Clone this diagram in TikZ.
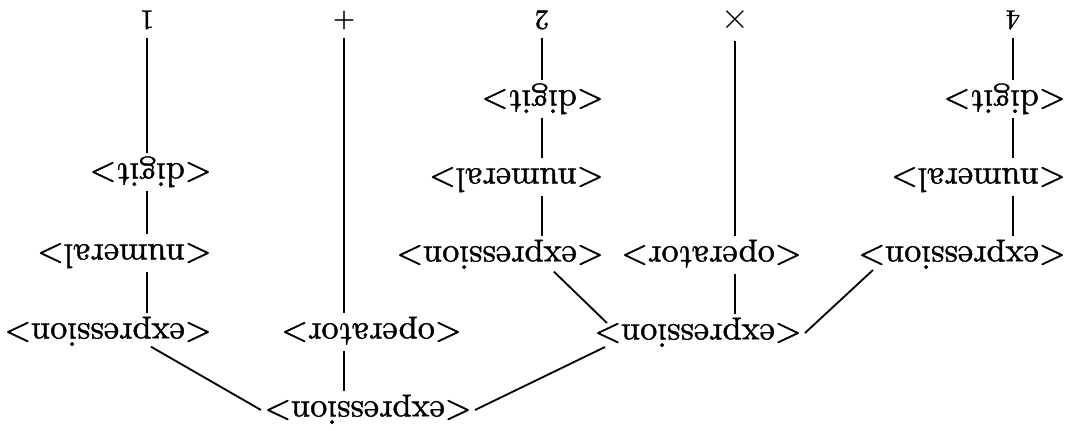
\documentclass[tikz,border=0pt]{standalone}
\usepackage{fontspec}
\newfontfamily\heavy{lmroman10-regular}[Extension=.otf, FakeBold=1.2]
\usetikzlibrary{calc}
\begin{document}
\begin{tikzpicture}[x=0.02cm,y=-0.02cm,
  lbl/.style={rotate=180, anchor=west, inner sep=0pt, outer sep=2pt,
    font=\heavy\fontsize{19.5}{23}\selectfont, text height=13.5pt, text depth=3.8pt},
  sym/.style={rotate=180, inner sep=0pt, outer sep=5pt, font=\heavy\fontsize{16}{19}\selectfont},
  conn/.style={line width=1.05pt}]
\useasboundingbox (0,0) rectangle (1080,430);
% column x positions
\coordinate (c1) at (147,0);
\coordinate (cp) at (344,0);
\coordinate (c2) at (542,0);
\coordinate (cx) at (735,0);
\coordinate (c4) at (1013,0);
% terminal symbols
\node[sym] (one) at (147,20) {1};
\node[sym] (plus) at (344,20) {+};
\node[sym] (two) at (542,20) {2};
\node[sym, font=\fontsize{20}{22}\selectfont] (times) at (735,20) {$\times$};
\node[sym] (four) at (1013,20) {4};
% nonterminals
\node[lbl] (d1) at (215,172) {<digit>};
\node[lbl] (n1) at (215,253) {<numeral>};
\node[lbl] (e1) at (215,332) {<expression>};
\node[lbl] (o1) at (465,332) {<operator>};
\node[lbl] (root) at (475,410) {<expression>};
\node[lbl] (d2) at (607,99) {<digit>};
\node[lbl] (n2) at (607,177) {<numeral>};
\node[lbl] (e2) at (607,255) {<expression>};
\node[lbl] (o2) at (805,255) {<operator>};
\node[lbl] (m) at (805,333) {<expression>};
\node[lbl] (d4) at (1069,99) {<digit>};
\node[lbl] (n4) at (1069,177) {<numeral>};
\node[lbl] (e4) at (1069,255) {<expression>};
% vertical connectors
\draw[conn] (one.north -| c1) -- (d1.south -| c1);
\draw[conn] (d1.north -| c1) -- (n1.south -| c1);
\draw[conn] (n1.north -| c1) -- (e1.south -| c1);
\draw[conn] (plus.north -| cp) -- (o1.south -| cp);
\draw[conn] (o1.north -| cp) -- (root.south -| cp);
\draw[conn] (two.north -| c2) -- (d2.south -| c2);
\draw[conn] (d2.north -| c2) -- (n2.south -| c2);
\draw[conn] (n2.north -| c2) -- (e2.south -| c2);
\draw[conn] (times.north -| cx) -- (o2.south -| cx);
\draw[conn] (o2.north -| cx) -- (m.south -| cx);
\draw[conn] (four.north -| c4) -- (d4.south -| c4);
\draw[conn] (d4.north -| c4) -- (n4.south -| c4);
\draw[conn] (n4.north -| c4) -- (e4.south -| c4);
% diagonal connectors
\draw[conn] ($(e1.north -| c1)+(4,-4)$) -- (root.east);
\draw[conn] (root.west) -- ($(m.east)+(14,14)$);
\draw[conn] ($(e2.north)+(54,-2)$) -- ($(m.east)+(16,-10)$);
\draw[conn] (m.west) -- ($(e4.east)+(18,15)$);
\end{tikzpicture}
\end{document}
